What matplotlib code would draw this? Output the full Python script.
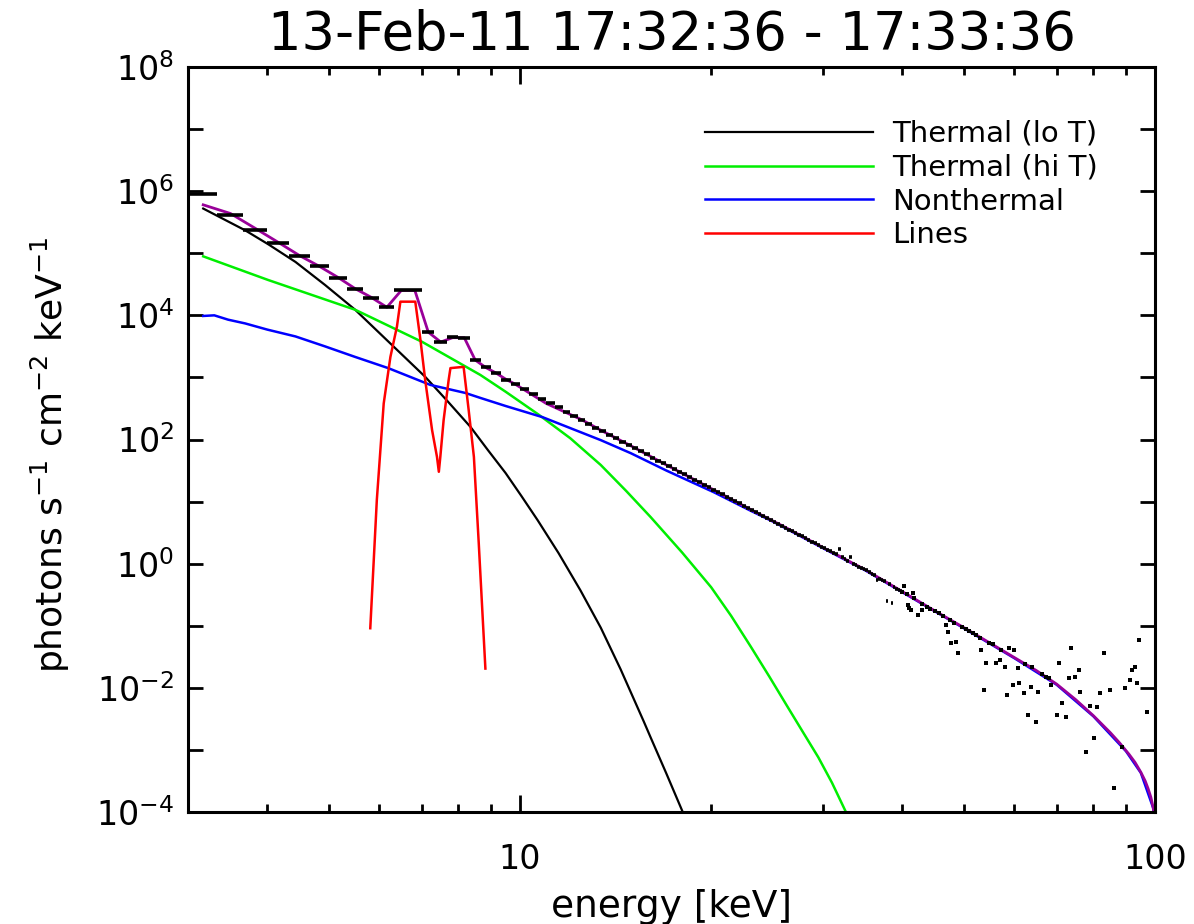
import numpy as np
import matplotlib
matplotlib.use("Agg")
import matplotlib.pyplot as plt
from matplotlib.ticker import NullFormatter

# ---- observed spectrum: 1/3 keV bins, 3-40 keV (log10 photons s-1 cm-2 keV-1)
bin_lo = np.arange(3.0, 40.0 - 1e-6, 1.0 / 3.0)
bin_hi = bin_lo + 1.0 / 3.0
data_log = [
    5.96, 5.62, 5.37, 5.16, 4.96, 4.79, 4.60, 4.42, 4.28, 4.13,
    4.41, 4.41, 3.73, 3.57, 3.65, 3.63, 3.28, 3.16, 3.07, 2.96, 2.89,
    # 10-15 keV
    2.81, 2.73, 2.66, 2.59, 2.52, 2.45, 2.38, 2.32, 2.25, 2.19, 2.13, 2.08, 2.02, 1.96, 1.91,
    # 15-20 keV
    1.86, 1.81, 1.76, 1.71, 1.66, 1.62, 1.57, 1.52, 1.48, 1.44, 1.39, 1.35, 1.31, 1.27, 1.23,
    # 20-25 keV
    1.19, 1.15, 1.12, 1.08, 1.04, 1.01, 0.97, 0.93, 0.90, 0.87, 0.83, 0.80, 0.77, 0.73, 0.70,
    # 25-30 keV
    0.67, 0.64, 0.61, 0.58, 0.55, 0.52, 0.49, 0.46, 0.44, 0.41, 0.38, 0.35, 0.33, 0.30, 0.27,
    # 30-35 keV
    0.25, 0.22, 0.20, 0.17, 0.15, 0.24, 0.10, 0.07, 0.05, 0.10, 0.00, -0.02, -0.05, -0.07, -0.09,
    # 35-40 keV
    -0.11, -0.14, -0.16, -0.19, -0.26, -0.24, -0.26, -0.28, -0.60, -0.33, -0.63, -0.37, -0.40, -0.42, -0.44,
]

# ---- high energy data points (keV, log10 flux)
dot_e = [40.0, 40.3, 40.7, 40.8, 41.0, 41.3, 41.6, 41.7, 42.3, 42.9, 43.0, 43.7, 44.3,
         45.0, 45.7, 46.3, 46.9, 47.2, 47.5, 47.8, 48.3, 48.6, 49.0, 49.7, 50.3, 51.0,
         51.7, 52.3, 53.0, 53.2, 53.8, 54.2, 54.8, 55.5, 56.2, 56.9, 57.3, 58.0, 58.4,
         58.8, 59.8, 60.0, 60.9, 61.1, 62.2, 62.5, 63.2, 63.8, 64.0, 65.0, 65.5, 66.5,
         67.3, 68.2, 68.7, 70.0, 70.5, 71.3, 72.5, 73.1, 73.8, 74.7, 75.8, 76.1, 78.0,
         78.9, 80.3, 80.9, 81.8, 83.2, 84.8, 86.1, 88.6, 89.6, 91.2, 91.9, 92.9, 93.6,
         94.3, 97.0]
dot_log = [-0.45, -0.36, -0.49, -0.67, -0.72, -0.75, -0.47, -0.56, -0.83, -0.75, -0.65, -0.69, -0.73,
           -0.76, -0.80, -0.84, -0.99, -1.10, -0.91, -1.28, -0.96, -1.26, -1.44, -1.02, -1.05, -1.08,
           -1.12, -1.15, -1.19, -1.39, -2.04, -1.60, -1.27, -1.30, -1.60, -1.55, -1.39, -1.67, -2.12,
           -1.36, -1.96, -1.39, -1.68, -1.92, -2.08, -1.61, -2.44, -1.99, -1.67, -2.55, -2.07, -1.78,
           -1.82, -1.84, -1.96, -2.44, -1.60, -2.25, -2.47, -1.84, -1.36, -1.83, -1.71, -2.07, -3.03,
           -2.29, -2.81, -2.31, -2.08, -1.44, -2.04, -3.61, -2.95, -2.00, -1.88, -1.71, -1.67, -1.92,
           -1.23, -2.39]

# ---- model components (keV, log10 flux)
lo_e = [3.17, 3.69, 4.02, 4.43, 4.93, 5.5, 6.2, 7.09, 7.7, 8.36, 8.9, 9.49, 10.05, 10.66,
        11.5, 12.45, 13.4, 14.4, 15.66, 16.06, 17.0, 18.04, 18.5]
lo_log = [5.72, 5.37, 5.14, 4.86, 4.49, 4.09, 3.58, 3.01, 2.61, 2.20, 1.83, 1.46, 1.09, 0.70,
          0.17, -0.43, -1.03, -1.70, -2.54, -2.80, -3.38, -4.0, -4.3]

hi_e = [3.17, 4.01, 5.5, 7.02, 8.66, 9.49, 10.7, 12.0, 13.4, 14.7, 16.06, 18.0, 20.0, 21.5,
        23.1, 24.7, 26.4, 28.0, 29.5, 31.0, 32.6, 33.5]
hi_log = [4.95, 4.57, 4.09, 3.57, 3.04, 2.77, 2.40, 2.02, 1.59, 1.17, 0.75, 0.18, -0.38, -0.84,
          -1.34, -1.82, -2.31, -2.74, -3.12, -3.53, -4.0, -4.25]

nth_e = [3.17, 3.3, 3.47, 3.69, 4.0, 4.43, 4.93, 5.5, 6.2, 7.22, 8.2, 8.66, 9.49, 10.85,
         13.4, 14.94, 17.0, 20.2, 23.0, 25.0, 30.0, 35.0, 40.0, 50.0, 60.0, 70.0, 80.0,
         90.0, 95.0, 99.3, 99.8]
nth_log = [3.99, 4.00, 3.93, 3.87, 3.77, 3.66, 3.50, 3.33, 3.15, 2.88, 2.75, 2.67, 2.54, 2.36,
           1.99, 1.78, 1.50, 1.15, 0.86, 0.68, 0.25, -0.11, -0.46, -1.04, -1.52, -1.95, -2.46,
           -3.02, -3.37, -3.93, -4.06]

line_e = [5.81, 5.95, 6.10, 6.25, 6.40, 6.48, 6.84, 6.97, 7.09, 7.27, 7.40, 7.45, 7.49,
          7.58, 7.72, 7.77, 8.15, 8.30, 8.46, 8.61, 8.82]
line_log = [-1.04, 1.03, 2.58, 3.33, 3.82, 4.22, 4.22, 3.60, 2.96, 2.15, 1.72, 1.48, 1.72,
            2.31, 2.96, 3.15, 3.17, 2.48, 1.72, 0.33, -1.69]

tot_e = [3.17, 3.5, 3.83, 4.17, 4.5, 4.83, 5.17, 5.5, 5.83, 6.17, 6.5, 6.83, 7.17, 7.5,
         7.83, 8.17, 8.5, 8.83, 9.17, 9.5, 9.83, 11.0, 12.5, 13.4, 15.0, 17.0, 20.0, 23.0,
         26.0, 30.0, 35.0, 40.0, 45.0, 50.0, 55.0, 60.0, 65.0, 70.0, 75.0, 80.0, 85.0, 88.0,
         91.0, 93.0, 95.0, 96.5, 97.5, 98.5, 99.3, 99.8]
tot_log = [5.78, 5.64, 5.40, 5.17, 4.96, 4.79, 4.61, 4.43, 4.29, 4.13, 4.40, 4.40, 3.73, 3.57,
           3.64, 3.64, 3.28, 3.16, 3.07, 2.97, 2.89, 2.58, 2.32, 2.15, 1.89, 1.59, 1.21, 0.88,
           0.60, 0.26, -0.10, -0.45, -0.76, -1.03, -1.28, -1.51, -1.72, -1.94, -2.19, -2.45,
           -2.72, -2.89, -3.07, -3.20, -3.36, -3.50, -3.62, -3.76, -3.92, -4.05]

title = "13-Feb-11 17:32:36 - 17:33:36"

plt.rcParams['font.family'] = ['DejaVu Sans']

fig = plt.figure(figsize=(11.94, 9.24), dpi=100)
ax = fig.add_axes([188 / 1194, 112 / 924, 967 / 1194, 745 / 924])
ax.set_xscale('log')
ax.set_yscale('log')

ax.plot(lo_e, 10 ** np.array(lo_log), color='black', lw=1.6, label='Thermal (lo T)')
ax.plot(hi_e, 10 ** np.array(hi_log), color='#00ee00', lw=1.8, label='Thermal (hi T)')
ax.plot(nth_e, 10 ** np.array(nth_log), color='#0000ff', lw=1.8, label='Nonthermal')
ax.plot(line_e, 10 ** np.array(line_log), color='#ff0000', lw=1.8, label='Lines')
ax.plot(tot_e, 10 ** np.array(tot_log), color='#990099', lw=2.0)

# data: horizontal bars per energy bin, then single points at high energy
ax.hlines(10 ** np.array(data_log), bin_lo, bin_hi, color='black', lw=2.6)
ax.plot(dot_e, 10 ** np.array(dot_log), 's', color='black', ms=2.8, mew=0)

ax.set_xlim(3, 100)
ax.set_ylim(1e-4, 1e8)

ax.set_xticks([10, 100])
ax.set_xticklabels(['10', '100'])
ax.set_xticks([4, 5, 6, 7, 8, 9, 20, 30, 40, 50, 60, 70, 80, 90], minor=True)
ax.xaxis.set_minor_formatter(NullFormatter())

yt = [1e-4, 1e-2, 1e0, 1e2, 1e4, 1e6, 1e8]
ax.set_yticks(yt)
ax.set_yticklabels([r'$10^{%d}$' % p for p in [-4, -2, 0, 2, 4, 6, 8]])
ax.set_yticks([1e-3, 1e-1, 1e1, 1e3, 1e5, 1e7], minor=True)
ax.yaxis.set_minor_formatter(NullFormatter())

ax.tick_params(which='both', direction='in', top=True, right=True, width=2, labelsize=24)
ax.tick_params(axis='x', which='major', length=12, pad=22)
ax.tick_params(axis='x', which='minor', length=6)
ax.tick_params(axis='y', which='both', length=11, pad=10)
for s in ax.spines.values():
    s.set_linewidth(2.2)

ax.set_xlabel('energy [keV]', fontsize=27, labelpad=10)
ax.set_ylabel(r'photons s$^{-1}$ cm$^{-2}$ keV$^{-1}$', fontsize=26)
ax.yaxis.set_label_coords(-0.12, 0.48)
ax.set_title(title, fontsize=38, pad=12)

ax.legend(loc='upper left', bbox_to_anchor=(0.5346, 0.929), frameon=False, fontsize=21,
          handlelength=5.75, handletextpad=0.68, labelspacing=0.2, borderpad=0, borderaxespad=0)

fig.savefig('out.png', dpi=100)
